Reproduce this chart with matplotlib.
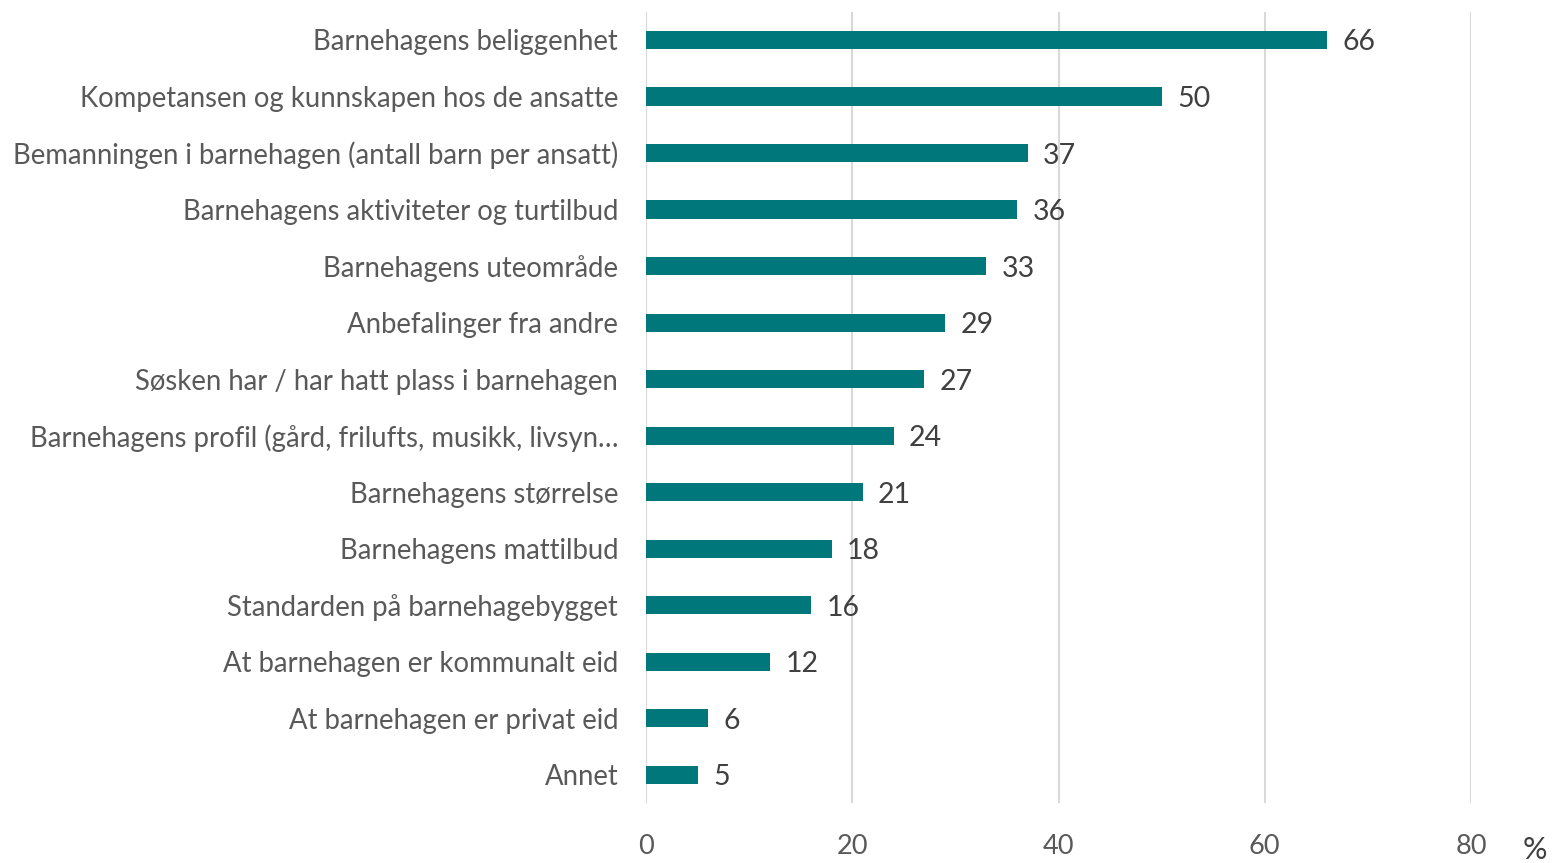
import matplotlib.pyplot as plt

# Data
kategorier = [
    "Barnehagens beliggenhet",
    "Kompetansen og kunnskapen hos de ansatte",
    "Bemanningen i barnehagen (antall barn per ansatt)",
    "Barnehagens aktiviteter og turtilbud",
    "Barnehagens uteområde",
    "Anbefalinger fra andre",
    "Søsken har / har hatt plass i barnehagen",
    "Barnehagens profil (gård, frilufts, musikk, livsyn…",
    "Barnehagens størrelse",
    "Barnehagens mattilbud",
    "Standarden på barnehagebygget",
    "At barnehagen er kommunalt eid",
    "At barnehagen er privat eid",
    "Annet",
]
verdier = [66, 50, 37, 36, 33, 29, 27, 24, 21, 18, 16, 12, 6, 5]
x_ticks = [0, 20, 40, 60, 80]

plt.rcParams['font.family'] = ['Lato', 'DejaVu Sans']

fig = plt.figure(figsize=(15.52, 8.63), dpi=100)
ax = fig.add_axes([646 / 1552, 1 - 803 / 863, 825 / 1552, (803 - 11.7) / 863])

pos = list(range(len(kategorier)))
ax.barh(pos, verdier, height=0.32, color='#00777B', zorder=3)

for p, v in zip(pos, verdier):
    ax.text(v + 1.5, p, str(v), va='center_baseline', ha='left', fontsize=20.5, color='#404040')

ax.set_xlim(0, 80)
ax.set_ylim(len(kategorier) - 0.5, -0.5)
ax.set_xticks(x_ticks)
ax.set_yticks(pos)
ax.set_yticklabels(kategorier, fontsize=19.8, color='#595959')
ax.tick_params(axis='x', labelsize=19.5, labelcolor='#595959', length=0, pad=22)
ax.tick_params(axis='y', length=0, pad=20)
ax.grid(axis='x', color='#d9d9d9', linewidth=1.5, zorder=0)
for s in ax.spines.values():
    s.set_visible(False)

fig.text(1535 / 1552, 1 - 850 / 863, '%', fontsize=22, color='#404040', ha='center', va='center')

fig.savefig('out.png', dpi=100)
